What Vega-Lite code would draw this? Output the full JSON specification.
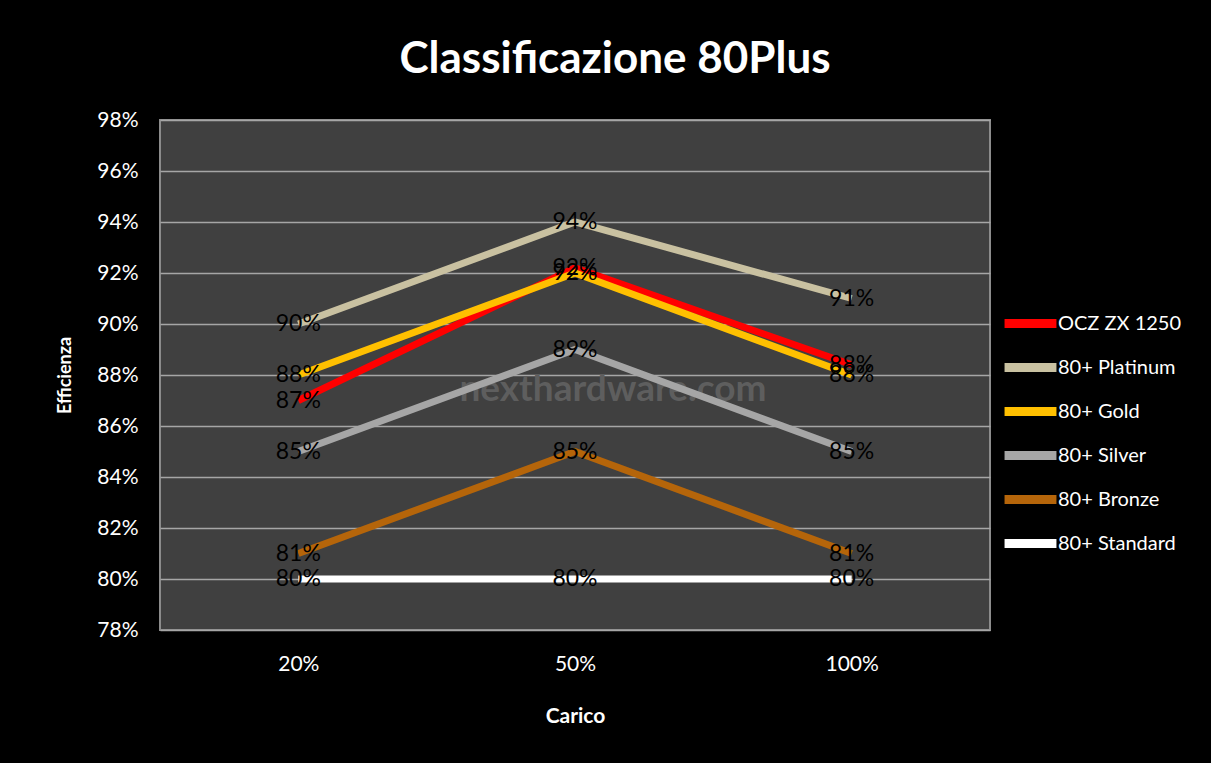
{
  "$schema": "https://vega.github.io/schema/vega-lite/v6.json",
  "width": 830,
  "height": 510,
  "autosize": {"type": "none"},
  "padding": {"left": 160, "top": 120, "right": 221, "bottom": 133},
  "background": "#000000",
  "title": {
    "text": "Classificazione 80Plus",
    "color": "#ffffff",
    "font": "Lato",
    "fontSize": 44,
    "fontWeight": "bold",
    "anchor": "middle",
    "frame": "group",
    "dx": 40,
    "offset": 27
  },
  "config": {
    "view": {"fill": "#404040", "stroke": "#8c8c8c", "strokeWidth": 2},
    "text": {"font": "Lato"},
    "axis": {"labelFont": "Lato", "titleFont": "Lato"},
    "legend": {"labelFont": "Lato"}
  },
  "datasets": {
    "eff": [
      {"serie": "OCZ ZX 1250", "carico": "20%", "eff": 0.87},
      {"serie": "OCZ ZX 1250", "carico": "50%", "eff": 0.922},
      {"serie": "OCZ ZX 1250", "carico": "100%", "eff": 0.884},
      {"serie": "80+ Platinum", "carico": "20%", "eff": 0.90},
      {"serie": "80+ Platinum", "carico": "50%", "eff": 0.94},
      {"serie": "80+ Platinum", "carico": "100%", "eff": 0.91},
      {"serie": "80+ Gold", "carico": "20%", "eff": 0.88},
      {"serie": "80+ Gold", "carico": "50%", "eff": 0.92},
      {"serie": "80+ Gold", "carico": "100%", "eff": 0.88},
      {"serie": "80+ Silver", "carico": "20%", "eff": 0.85},
      {"serie": "80+ Silver", "carico": "50%", "eff": 0.89},
      {"serie": "80+ Silver", "carico": "100%", "eff": 0.85},
      {"serie": "80+ Bronze", "carico": "20%", "eff": 0.81},
      {"serie": "80+ Bronze", "carico": "50%", "eff": 0.85},
      {"serie": "80+ Bronze", "carico": "100%", "eff": 0.81},
      {"serie": "80+ Standard", "carico": "20%", "eff": 0.80},
      {"serie": "80+ Standard", "carico": "50%", "eff": 0.80},
      {"serie": "80+ Standard", "carico": "100%", "eff": 0.80}
    ],
    "wm": [{"carico": "50%", "eff": 0.874, "t": "nexthardware.com"}]
  },
  "layer": [
    {
      "data": {"name": "wm"},
      "mark": {"type": "text", "fontSize": 37, "fontWeight": "bold", "color": "#5e5e5e", "dx": 38},
      "encoding": {
        "x": {"field": "carico", "type": "ordinal", "scale": {"type": "point", "padding": 0.5, "domain": ["20%", "50%", "100%"]}},
        "y": {"field": "eff", "type": "quantitative", "scale": {"domain": [0.78, 0.98], "nice": false, "zero": false}},
        "text": {"field": "t"}
      }
    },
    {
      "data": {"name": "eff"},
      "mark": {"type": "line", "strokeWidth": 7},
      "encoding": {
        "x": {
          "field": "carico",
          "type": "ordinal",
          "scale": {"type": "point", "padding": 0.5, "domain": ["20%", "50%", "100%"]},
          "axis": {
            "title": "Carico",
            "labelAngle": 0,
            "labelAlign": "center",
            "labelColor": "#ffffff",
            "labelFontSize": 21,
            "labelPadding": 34,
            "titleColor": "#ffffff",
            "titleFontSize": 21,
            "titleFontWeight": "bold",
            "titleBaseline": "top",
            "titleY": 75,
            "grid": false,
            "domain": false,
            "ticks": false
          }
        },
        "y": {
          "field": "eff",
          "type": "quantitative",
          "scale": {"domain": [0.78, 0.98], "nice": false, "zero": false},
          "axis": {
            "title": "Efficienza",
            "format": ".0%",
            "values": [0.78, 0.8, 0.82, 0.84, 0.86, 0.88, 0.9, 0.92, 0.94, 0.96, 0.98],
            "labelColor": "#ffffff",
            "labelFontSize": 21,
            "labelPadding": 22,
            "titleColor": "#ffffff",
            "titleFontSize": 18,
            "titleFontWeight": "bold",
            "titleX": -95,
            "titleY": 255,
            "titleAlign": "center",
            "titleBaseline": "middle",
            "grid": true,
            "gridColor": "#a6a6a6",
            "gridWidth": 1.5,
            "domain": false,
            "ticks": false
          }
        },
        "color": {
          "field": "serie",
          "type": "nominal",
          "scale": {
            "domain": ["OCZ ZX 1250", "80+ Platinum", "80+ Gold", "80+ Silver", "80+ Bronze", "80+ Standard"],
            "range": ["#ff0000", "#c9c1a1", "#ffc000", "#a6a6a6", "#b5650a", "#ffffff"]
          },
          "legend": {
            "orient": "none",
            "legendX": 845,
            "legendY": 178,
            "title": null,
            "labelColor": "#ffffff",
            "labelFontSize": 20,
            "symbolType": "M-1.26,0H1.26",
            "symbolSize": 1697,
            "symbolStrokeWidth": 9,
            "symbolFillColor": "transparent",
            "labelOffset": 2,
            "rowPadding": 0
          }
        }
      }
    },
    {
      "data": {"name": "eff"},
      "mark": {"type": "text", "fontSize": 23, "color": "#000000"},
      "encoding": {
        "x": {"field": "carico", "type": "ordinal", "scale": {"type": "point", "padding": 0.5, "domain": ["20%", "50%", "100%"]}},
        "y": {"field": "eff", "type": "quantitative", "scale": {"domain": [0.78, 0.98], "nice": false, "zero": false}},
        "text": {"field": "eff", "type": "quantitative", "format": ".0%"}
      }
    }
  ]
}
